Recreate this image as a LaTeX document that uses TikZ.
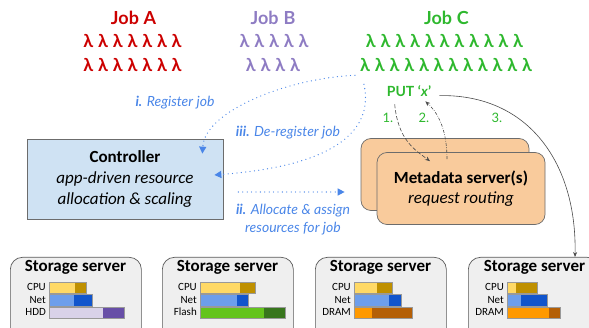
\documentclass[tikz,border=0pt]{standalone}
\usepackage{fontspec}
\setmainfont{Carlito}
\newfontfamily\latofont{Lato}
\newfontfamily\lamfont{Lato}[WordSpace=1.05]
\usepackage{xcolor}
\usetikzlibrary{positioning,shapes,arrows.meta}

\definecolor{jobred}{HTML}{CC0000}
\definecolor{jobpurple}{HTML}{8E7CC3}
\definecolor{jobgreen}{HTML}{2EB82E}
\definecolor{stepblue}{HTML}{4A86E8}
\definecolor{ctrlfill}{HTML}{CFE2F3}
\definecolor{metafill}{HTML}{F9CB9C}
\definecolor{storefill}{HTML}{EFEFEF}
\definecolor{cpulo}{HTML}{FFD966}
\definecolor{cpuhi}{HTML}{BF9000}
\definecolor{netlo}{HTML}{6D9EEB}
\definecolor{nethi}{HTML}{1155CC}
\definecolor{hddlo}{HTML}{D9D2E9}
\definecolor{hddhi}{HTML}{674EA7}
\definecolor{flashlo}{HTML}{64C41C}
\definecolor{flashhi}{HTML}{38761D}
\definecolor{dramlo}{HTML}{FF9900}
\definecolor{dramhi}{HTML}{B45F06}

% x, y, used width, reserved width, resource
\newcommand{\resbar}[5]{%
  \fill[#5lo] (#1,#2) rectangle ++(#3,11.5);
  \fill[#5hi] (#1+#3,#2) rectangle ++(#4,11.5);
  \draw[barline] (#1,#2) rectangle ++(#3+#4,11.5);}

\tikzset{
  jobtitle/.style={font=\latofont\bfseries\fontsize{18}{20}\selectfont, anchor=base},
  lamrow/.style={font=\lamfont\bfseries\fontsize{18}{20}\selectfont, anchor=base},
  puttext/.style={font=\latofont\bfseries\fontsize{14}{16}\selectfont, text=jobgreen, anchor=base},
  stepnum/.style={font=\latofont\fontsize{13}{15}\selectfont, text=jobgreen, anchor=base},
  steplabel/.style={font=\latofont\itshape\fontsize{14}{18}\selectfont, text=stepblue, anchor=base, align=center},
  ctrlbox/.style={draw=gray!85!black, line width=0.7pt, fill=ctrlfill, minimum width=196pt,
    minimum height=80pt, align=center, font=\fontsize{17}{21}\selectfont},
  metabox/.style={draw=gray!85!black, line width=0.7pt, fill=metafill, rounded corners=10pt,
    minimum width=168pt, minimum height=72pt, align=center, font=\fontsize{17}{20}\selectfont},
  storebox/.style={draw=gray!70!black, line width=0.7pt, fill=storefill, rounded corners=12pt,
    minimum width=131pt, minimum height=90pt, anchor=north west},
  storetitle/.style={font=\bfseries\fontsize{17}{19}\selectfont, anchor=base},
  reslabel/.style={font=\fontsize{11}{12}\selectfont, anchor=base east},
  barline/.style={draw=gray!80, line width=0.5pt},
  ctrlflow/.style={stepblue, line width=1.3pt, line cap=round, dash pattern=on 0pt off 4.4pt,
    -{Triangle[length=7pt,width=7pt]}},
  dataflow/.style={gray!60!black, line width=0.6pt, -{Stealth[length=5pt,width=4pt]}}
}

\begin{document}
\begin{tikzpicture}[x=1pt,y=-1pt]
\tikzstyle{every node}+=[inner sep=0pt]
\clip (0,0) rectangle (589,328);
\node[jobtitle, text=jobred] (jobA) at (133.5,25) {Job A};
\node[lamrow, text=jobred] (lamA1) at (132.5,48) {λ λ λ λ λ λ λ};
\node[lamrow, text=jobred] (lamA2) at (132.5,72) {λ λ λ λ λ λ λ};
\node[jobtitle, text=jobpurple] (jobB) at (273,25) {Job B};
\node[lamrow, text=jobpurple] (lamB1) at (274,48) {λ λ λ λ λ};
\node[lamrow, text=jobpurple] (lamB2) at (273,72) {λ λ λ λ};
\node[jobtitle, text=jobgreen] (jobC) at (446.5,25) {Job C};
\node[lamrow, text=jobgreen] (lamC1) at (444.5,48) {λ λ λ λ λ λ λ λ λ λ λ};
\node[lamrow, text=jobgreen] (lamC2) at (446,72) {λ λ λ λ λ λ λ λ λ λ λ λ};
\node[puttext] (put) at (409,97) {PUT ‘\textit{x}’};
\node[stepnum] (num1) at (388,123) {1.};
\node[stepnum] (num2) at (424,123) {2.};
\node[stepnum] (num3) at (497,123) {3.};
% controller and metadata servers
\node[ctrlbox] (ctrl) at (125,179) {\textbf{Controller}\\\textit{app-driven resource}\\\textit{allocation \& scaling}};
\node[metabox] (metaback) at (445,174.5) {};
\node[metabox] (meta) at (461,188.5) {\textbf{Metadata server(s)}\\\textit{request routing}};
% storage servers
\node[storebox] (s1) at (10,257) {};
\node[storebox] (s2) at (162,257) {};
\node[storebox] (s3) at (315,257) {};
\node[storebox] (s4) at (468,257) {};
\node[storetitle] (t1) at (75.5,272) {Storage server};
\node[storetitle] (t2) at (227.5,272) {Storage server};
\node[storetitle] (t3) at (380.5,272) {Storage server};
\node[storetitle] (t4) at (534.5,272) {Storage server};
\node[reslabel] (cpu1) at (46,291) {CPU};
\node[reslabel] (net1) at (46,303.5) {Net};
\node[reslabel] (dev1) at (46,316) {HDD};
\node[reslabel] (cpu2) at (197,291) {CPU};
\node[reslabel] (net2) at (197,303.5) {Net};
\node[reslabel] (dev2) at (197,316) {Flash};
\node[reslabel] (cpu3) at (351,291) {CPU};
\node[reslabel] (net3) at (351,303.5) {Net};
\node[reslabel] (dev3) at (351,316) {DRAM};
\node[reslabel] (cpu4) at (504,291) {CPU};
\node[reslabel] (net4) at (504,303.5) {Net};
\node[reslabel] (dev4) at (504,316) {DRAM};
\resbar{49}{282}{26}{11}{cpu}
\resbar{49}{294.5}{25}{18}{net}
\resbar{49}{307}{54}{21}{hdd}
\resbar{200}{282}{40}{15}{cpu}
\resbar{200}{294.5}{37}{11}{net}
\resbar{200}{307}{64}{21}{flash}
\resbar{354}{282}{23}{15}{cpu}
\resbar{354}{294.5}{35}{12}{net}
\resbar{354}{307}{18}{40}{dram}
\resbar{507}{282}{9}{21}{cpu}
\resbar{507}{294.5}{14}{26}{net}
\resbar{507}{307}{42}{11}{dram}
% control path
\draw[ctrlflow] ([xshift=-5pt,yshift=-3pt]lamC2.south west) .. controls (290,78) and (205,110) .. ([xshift=-21pt,yshift=-15pt]ctrl.north east);
\node[steplabel] (lreg) at (175,107) {\textbf{i.} Register job};
\draw[ctrlflow] ([xshift=4pt,yshift=-12pt]lamC2.south west) .. controls (373,125) and (345,165) .. ([xshift=-9pt,yshift=4pt]ctrl.east);
\node[steplabel] (ldereg) at (288,137) {\textbf{iii.} De-register job};
\draw[ctrlflow] ([xshift=15pt,yshift=-13pt]ctrl.east) -- ([xshift=-16pt,yshift=-17.5pt]metaback.west);
\node[steplabel] (lalloc) at (293,233) {\textbf{ii.} Allocate \& assign\\resources for job};
% data path
\draw[dataflow, dash pattern=on 4pt off 2pt] ([xshift=8pt,yshift=-7pt]put.south west) .. controls (398,140) and (415,150) .. ([xshift=-31pt,yshift=-9pt]meta.north);
\draw[dataflow, dash pattern=on 3pt off 1.5pt on 0.6pt off 1.5pt] ([xshift=-14pt,yshift=-7pt]meta.north) .. controls (447,125) and (435,110) .. ([xshift=-6pt,yshift=-4pt]put.south east);
\draw[dataflow] ([xshift=8pt,yshift=-4pt]put.east) .. controls (530,94) and (577,165) .. ([xshift=107pt]s4.north west);
\end{tikzpicture}
\end{document}
